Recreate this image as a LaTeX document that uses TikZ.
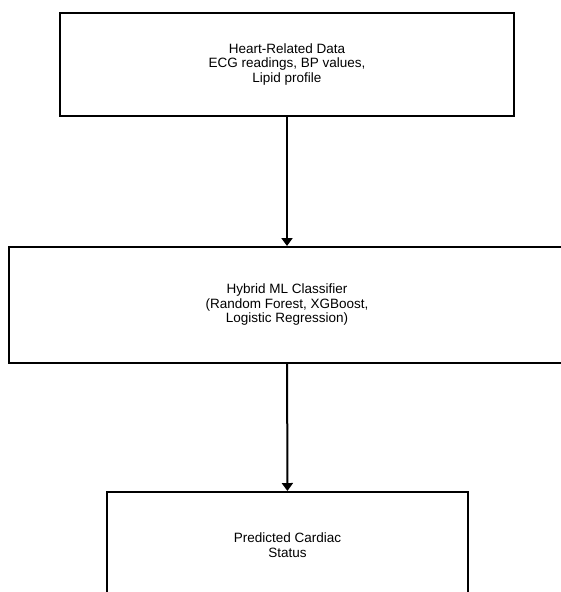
\documentclass[tikz,border=0pt]{standalone}
\usepackage{fontspec}
\setmainfont{Liberation Sans}
\usetikzlibrary{arrows.meta}
\begin{document}
\begin{tikzpicture}[
    x=1pt, y=-1pt,
    block/.style={draw, line width=2pt, align=center, inner sep=0pt,
                  font=\fontsize{13.5}{14.5}\selectfont},
    arrow/.style={-{Triangle[length=8pt, width=11pt]}, line width=2pt}
]
\useasboundingbox (0,0) rectangle (561,592);
\clip (0,0) rectangle (561,592);
% Input
\node[block, minimum width=454pt, minimum height=103pt] (data) at (287,64.5)
    {Heart-Related Data\\ECG readings, BP values,\\Lipid profile};
% Model
\node[block, minimum width=556pt, minimum height=116pt] (model) at (287,305)
    {Hybrid ML Classifier\\(Random Forest, XGBoost,\\Logistic Regression)};
% Output
\node[block, minimum width=361pt, minimum height=106pt] (status) at (287.5,545)
    {Predicted Cardiac\\Status};

% Flow
\draw[arrow] (data) -- (model);
\draw[arrow] (model) -- (status);
\end{tikzpicture}
\end{document}
